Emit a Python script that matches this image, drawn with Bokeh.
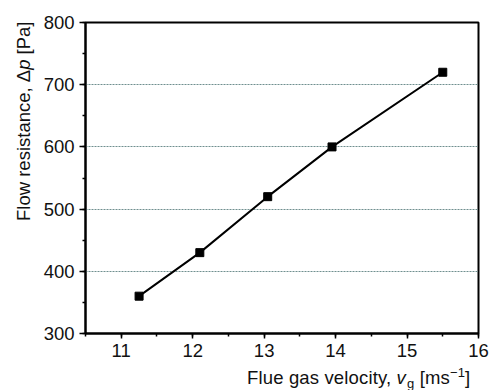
from bokeh.plotting import figure
from bokeh.models import FixedTicker, Range1d, Div
from bokeh.layouts import column
from bokeh.embed import file_html
from bokeh.resources import INLINE

velocity = [11.25, 12.1, 13.05, 13.95, 15.5]
resistance = [360, 430, 520, 600, 720]
x_ticks = [11, 12, 13, 14, 15, 16]
y_ticks = [300, 400, 500, 600, 700, 800]

FONT = "Liberation Sans"
FS = "18.5px"

W, H = 489, 390
BL, BR, BT, BB = 85, 11, 22, 57

p = figure(width=W, height=H, output_backend="svg", toolbar_location=None,
           x_range=Range1d(10.5, 16), y_range=Range1d(300, 800),
           min_border_left=BL, min_border_right=BR, min_border_top=BT, min_border_bottom=BB)
p.background_fill_color = "white"
p.border_fill_color = "white"
p.outline_line_color = "black"
p.outline_line_width = 2

p.line(velocity, resistance, line_color="black", line_width=2)
p.scatter(velocity, resistance, marker="square", size=8, fill_color="black", line_color="black")

p.xgrid.visible = False
p.ygrid.ticker = FixedTicker(ticks=[400, 500, 600, 700])
p.ygrid.grid_line_color = "#6f8f8f"
p.ygrid.grid_line_dash = "2 1"
p.ygrid.grid_line_width = 1

for ax, ticks, minor, tout in ((p.xaxis[0], x_ticks, [10.5 + 0.5 * i for i in range(12)], 5),
                               (p.yaxis[0], y_ticks, [300 + 50 * i for i in range(11)], 6)):
    ax.ticker = FixedTicker(ticks=ticks, minor_ticks=minor)
    ax.axis_line_width = 2
    ax.axis_line_color = "black"
    ax.major_tick_line_color = "black"
    ax.minor_tick_line_color = "black"
    ax.major_tick_line_width = 1.5
    ax.minor_tick_line_width = 1.5
    ax.major_tick_out = tout
    ax.major_tick_in = 0
    ax.minor_tick_out = 3
    ax.minor_tick_in = 0
    ax.major_label_text_font = FONT
    ax.major_label_text_font_size = FS
    ax.major_label_text_color = "#111111"
    ax.major_label_standoff = 5

base = {"position": "absolute", "font-family": FONT, "font-size": FS, "line-height": "22px",
        "color": "#111111", "white-space": "nowrap", "margin": "0", "padding": "0"}

sub = '<span style="font-size:13px;position:relative;top:4px;margin-left:1px">g</span>'
sup = '<span style="font-size:13px;position:relative;top:-7px">\u22121</span>'
xlabel = Div(text=f'Flue gas velocity, <i>v</i>{sub} [ms{sup}]', width=260, height=24,
             styles=dict(base, left="247px", top="367px", **{"letter-spacing": "0.15px"}))

ylabel = Div(text='Flow resistance, \u0394<i>p</i> [Pa]', width=230, height=24,
             styles=dict(base, left="13px", top="221px", transform="rotate(-90deg)",
                         **{"transform-origin": "0 0"}))

layout = column(p, xlabel, ylabel)
open("out.html", "w").write(file_html(layout, INLINE))
